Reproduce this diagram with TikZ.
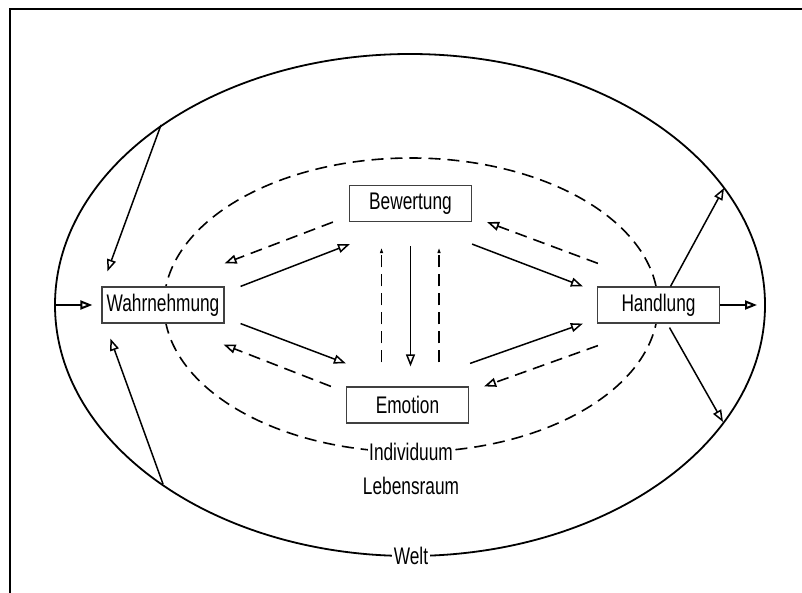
\documentclass[tikz,border=0pt]{standalone}
\usepackage{fontspec}
\setmainfont[FakeStretch=0.72]{Liberation Sans}
\usetikzlibrary{arrows.meta,calc}
\tikzset{
  box/.style={draw=black!75,line width=1.2pt,fill=white,minimum width=122pt,minimum height=36pt,inner sep=0pt},
  lbl/.style={fill=white,inner sep=1.5pt},
  pfeil/.style={line width=1.5pt,->},
  rueck/.style={line width=1.6pt,dash pattern=on 12pt off 7pt},
  klein/.style={-{Triangle[length=5pt,width=3pt]}}
}
\begin{document}
\begin{tikzpicture}[x=1pt,y=-1pt,>={Triangle[open,length=12pt,width=9pt]},font=\fontsize{24}{28}\selectfont]
\useasboundingbox (0,0) rectangle (802,593);
\draw[line width=2.4pt] (10,593)--(10,9)--(802,9);
% Welt und Individuum
\draw[line width=1.8pt] (410,305) ellipse [x radius=355pt,y radius=251pt];
\draw[rueck] (411,305) ellipse [x radius=247pt,y radius=147pt];
\coordinate (wL) at (55,305);
\coordinate (wNW) at (161,125);
\coordinate (wSW) at (163,484);
\coordinate (wNE) at (724,188);
\coordinate (wSE) at (723,422);
\coordinate (aus) at (757,305);

\node[box] (wahr) at (163,305) {Wahrnehmung};
\node[box] (bew) at (410.5,203.5) {Bewertung};
\node[box] (emo) at (407.5,405) {Emotion};
\node[box] (hand) at (658.5,305) {Handlung};
\node[lbl] (indiv) at (411,452) {Individuum};
\node (lebens) at (411,486) {Lebensraum};
\node[lbl] (welt) at (411,556) {Welt};

% Welt -> Wahrnehmung
\draw[pfeil,line width=2pt] (wL)--($(wahr.west)+(-9,0)$);
\draw[pfeil] (wNW)--($(wahr.north west)+(6,-15)$);
\draw[pfeil] (wSW)--($(wahr.south west)+(9,15)$);
% Handlung -> Welt
\draw[pfeil,line width=2pt] (hand.east)--(aus);
\draw[pfeil] ($(hand.north)+(12,0)$)--(wNE);
\draw[pfeil] ($(hand.south)+(11,4)$)--(wSE);

\draw[pfeil] ($(wahr.north east)+(16,0)$)--($(bew.south west)+(1,22)$);
\draw[rueck,->] ($(bew.south west)+(-16,0)$)--($(wahr.north east)+(0,-23)$);
\draw[pfeil] ($(wahr.south east)+(16,0)$)--($(emo.north west)+(0,-23)$);
\draw[rueck,->] ($(emo.north west)+(-15,0)$)--($(wahr.south east)+(-1,21)$);
\draw[pfeil] ($(bew.south east)+(0,22)$)--($(hand.north west)+(-14,0)$);
\draw[rueck,->] ($(hand.north west)+(1,-23)$)--($(bew.south east)+(15,0)$);
\draw[pfeil] ($(emo.north east)+(1,-23)$)--($(hand.south west)+(-14,0)$);
\draw[rueck,->] ($(hand.south west)+(1,22)$)--($(emo.north east)+(15,0)$);

\draw[pfeil] ($(bew.south)+(0,24)$)--($(bew.south |- emo.north)+(0,-20)$);
\draw[rueck,klein] ($(bew.south |- emo.north)+(-29,-24)$)--($(bew.south)+(-29,26)$);
\draw[rueck,klein] ($(bew.south |- emo.north)+(28.5,-24)$)--($(bew.south)+(28.5,26)$);
\end{tikzpicture}
\end{document}
